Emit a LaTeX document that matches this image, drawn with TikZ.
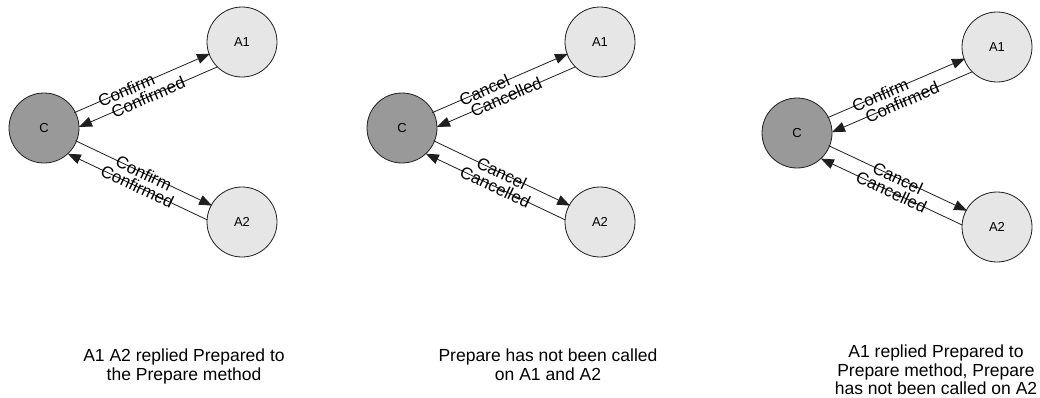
\documentclass[tikz,border=0pt]{standalone}
\usepackage{fontspec}
\setmainfont{Liberation Sans}
\usetikzlibrary{calc,arrows.meta}

\definecolor{coordfill}{RGB}{153,153,153}
\definecolor{partfill}{RGB}{230,230,230}
\definecolor{edgeline}{RGB}{30,30,30}

\tikzset{
  coordnode/.style={circle, draw=edgeline, line width=0.8pt, minimum size=70pt,
    inner sep=0pt, fill=coordfill, font=\fontsize{13}{13}\selectfont},
  partnode/.style={coordnode, fill=partfill},
  msg/.style={-{Triangle[length=13pt,width=10pt]}, line width=0.8pt, draw=edgeline},
  msglabel/.style={sloped, inner sep=0pt, font=\fontsize{17}{17}\selectfont},
  caption/.style={align=center, anchor=north, inner sep=0pt,
    font=\fontsize{17.5}{18.5}\selectfont},
}

% request C -> A (slightly left of the centre line) and reply A -> C (right of it)
\newcommand\msgpair[5]{%
  \draw[msg, shorten <=34pt, shorten >=34pt]
    ($(#1)!2pt!90:(#2)$) -- node[msglabel, pos=#5]{#3} ($(#2)!2pt!-90:(#1)$);
  \draw[msg, shorten <=32.5pt, shorten >=32.5pt]
    ($(#2)!13pt!90:(#1)$) -- node[msglabel, pos=0.5]{#4} ($(#1)!13pt!-90:(#2)$);
}

\begin{document}
\begin{tikzpicture}[x=1pt, y=-1pt]
  \useasboundingbox (0,0) rectangle (1040,397);

  % first round: both participants confirm
  \node[coordnode] (c1) at (44,128) {C};
  \node[partnode] (a11) at (242,42) {A1};
  \node[partnode] (a21) at (242,222) {A2};
  \msgpair{c1}{a11}{Confirm}{Confirmed}{0.42}
  \msgpair{c1}{a21}{Confirm}{Confirmed}{0.5}
  \node[caption] (t1) at (184,349) {A1 A2 replied Prepared to\\the Prepare method};

  % second round: both participants cancel
  \node[coordnode] (c2) at (402,128) {C};
  \node[partnode] (a12) at (600,42) {A1};
  \node[partnode] (a22) at (600,222) {A2};
  \msgpair{c2}{a12}{Cancel}{Cancelled}{0.42}
  \msgpair{c2}{a22}{Cancel}{Cancelled}{0.5}
  \node[caption] (t2) at (548,349) {Prepare has not been called\\on A1 and A2};

  % third round: A1 confirms, A2 cancels
  \node[coordnode] (c3) at (797,133) {C};
  \node[partnode] (a13) at (997,47) {A1};
  \node[partnode] (a23) at (997,227) {A2};
  \msgpair{c3}{a13}{Confirm}{Confirmed}{0.42}
  \msgpair{c3}{a23}{Cancel}{Cancelled}{0.5}
  \node[caption] (t3) at (936,345) {A1 replied Prepared to\\Prepare method, Prepare\\has not been called on A2};
\end{tikzpicture}
\end{document}
